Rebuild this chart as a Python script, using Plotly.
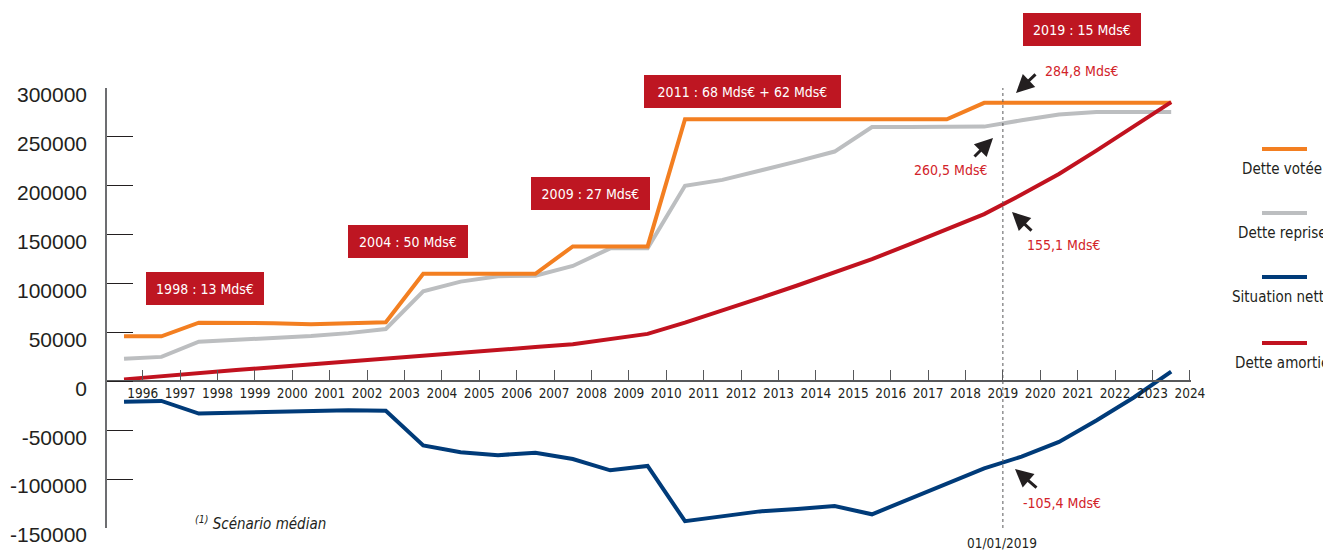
import plotly.graph_objects as go

# ---------------- data ----------------
annees = list(range(1995, 2024))  # points placed mid-year
dette_votee = [46000, 46000, 60000, 60000, 59500, 58500, 59500, 60500,
               110000, 110000, 110000, 110000, 138000, 138000, 138000,
               268000, 268000, 268000, 268000, 268000, 268000, 268000, 268000,
               284800, 284800, 284800, 284800, 284800, 284800]
dette_reprise = [23000, 25000, 40500, 42500, 44200, 46300, 49300, 53500,
                 92000, 102000, 107500, 108000, 118000, 136000, 136000,
                 200000, 206000, 215000, 225000, 235000, 260000, 260000, 260000,
                 260500, 267000, 273000, 275500, 275500, 275500]
situation_nette = [-21000, -20000, -33000, -32000, -30800, -30000, -29500, -30000,
                   -65500, -72500, -75500, -73000, -79500, -91000, -86500,
                   -143000, -137500, -133000, -130500, -127500, -136000, -120000, -105000,
                   -89000, -77000, -62000, -40000, -16500, 10000]
dette_amortie = [2000, 5500, 8500, 11500, 14500, 17500, 20500, 24000,
                 27000, 30000, 32500, 35000, 38000, 43000, 48500,
                 60000, 72000, 85000, 98000, 111000, 125000, 140000, 155000,
                 171000, 191000, 212000, 236000, 261000, 285500]

x_ticks = list(range(1996, 2025))
y_ticks = [-150000, -100000, -50000, 0, 50000, 100000, 150000, 200000, 250000, 300000]
y_ticktext = ["-150000", "-100000", "-50000", "0", "50000", "100000",
              "150000", "200000", "250000", "300000"]

series_names = ["Dette reprise", "Dette votée", "Situation nette", "Dette amortie"]
series_values = [dette_reprise, dette_votee, situation_nette, dette_amortie]
series_colors = ["#BCBEC0", "#F37F21", "#003B79", "#C1121F"]

etapes = ["1998 : 13 Mds€", "2004 : 50 Mds€", "2009 : 27 Mds€",
          "2011 : 68 Mds€ + 62 Mds€", "2019 : 15 Mds€"]
valeurs_2019 = ["284,8 Mds€", "260,5 Mds€", "155,1 Mds€", "-105,4 Mds€"]

# ---------------- layout geometry ----------------
OFF = 8  # default page body margin
W, H = 1331 - OFF, 552 - OFF
ML, MT = 107 - OFF, 88 - OFF
PLOT_R, PLOT_B = 1191 - OFF, 528 - OFF
MR, MB = W - PLOT_R, H - PLOT_B
XR = [1995.045, 2024.03]
YR = [-150000, 300000]
PW, PH = W - ML - MR, H - MT - MB

def px2paper(px):  # screenshot pixel -> paper
    return (px - OFF - ML) / PW

def py2paper(py):
    return (H - MB - (py - OFF)) / PH

NARROW = "DejaVu Sans Condensed, Liberation Sans Narrow, Roboto, sans-serif"
TXT = "#231F20"

fig = go.Figure()
xs = [a + 0.5 for a in annees]
for name, vals, col in zip(series_names, series_values, series_colors):
    fig.add_trace(go.Scatter(x=xs, y=vals, mode="lines", name=name,
                             line=dict(color=col, width=4), showlegend=False))

fig.update_layout(
    width=W, height=H, margin=dict(l=ML, r=MR, t=MT, b=MB, autoexpand=False),
    paper_bgcolor="white", plot_bgcolor="white",
    xaxis=dict(range=XR, tickvals=x_ticks, ticktext=[str(v) for v in x_ticks],
               anchor="free", position=(0 - YR[0]) / (YR[1] - YR[0]),
               showline=True, linecolor="#58595B", linewidth=1.5,
               ticks="inside", ticklen=11, tickcolor="#58595B", tickwidth=1,
               showgrid=False, zeroline=False, automargin=False,
               tickfont=dict(family=NARROW, size=13.5, color=TXT)),
    yaxis=dict(range=YR, tickvals=y_ticks, ticktext=y_ticktext,
               showline=True, linecolor="#6D6E71", linewidth=1.5,
               ticks="inside", ticklen=26, tickcolor=TXT, tickwidth=1,
               showgrid=False, zeroline=False, ticklabelstandoff=14,
               ticklabelshift=7, automargin=False,
               tickfont=dict(family="Liberation Sans, Arial, sans-serif", size=21, color=TXT)),
)

# dotted 01/01/2019 line
fig.add_shape(type="line", xref="x", yref="y", x0=2019, x1=2019, y0=YR[0], y1=YR[1],
              line=dict(color="#58595B", width=1, dash="dot"))

def note(px, py, text, **kw):
    fig.add_annotation(x=px2paper(px), y=py2paper(py), xref="paper", yref="paper",
                       xanchor=kw.pop("xanchor", "center"), yanchor="middle",
                       text=text, showarrow=False, **kw)

# red step boxes
box_centers = [(205, 288), (408, 241), (590, 193), (742, 92), (1082, 29)]
box_widths = [118, 120, 119, 197, 118]
for txt, (cx, cy), bw in zip(etapes, box_centers, box_widths):
    note(cx, cy, txt, bgcolor="#BE1622", width=bw, height=33,
         borderpad=0, borderwidth=0, align="center",
         font=dict(family=NARROW, size=14, color="white"))

# 2019 value labels
label_centers = [(1082, 71), (951, 170), (1064, 245), (1062, 503)]
for txt, (cx, cy) in zip(valeurs_2019, label_centers):
    note(cx, cy, txt, font=dict(family=NARROW, size=14, color="#D2232A"))

# arrows (head position, tail offset in px)
arrows = [((1016, 93), (21, -20)), ((993, 138), (-20, 20)),
          ((1012, 212), (21, 20)), ((1015, 469), (23, 20))]
for (hx, hy), (dx, dy) in arrows:
    fig.add_annotation(x=px2paper(hx), y=py2paper(hy), xref="paper", yref="paper", text="",
                       showarrow=True, arrowhead=2, arrowsize=1.2, arrowwidth=3,
                       arrowcolor=TXT, ax=dx, ay=dy, standoff=0)

note(1002, 543, "01/01/2019", borderpad=0, font=dict(family=NARROW, size=13.5, color=TXT))
note(193, 523, "<sup>(1)</sup> Scénario médian", xanchor="left",
     font=dict(family=NARROW, size=15, color=TXT, style="italic"))

# custom legend (line above label)
leg_line_y = [149, 213, 277, 343]
leg_text_y = [169, 233, 297, 363]
leg_names = ["Dette votée", "Dette reprise", "Situation nette", "Dette amortie"]
leg_cols = ["#F37F21", "#BCBEC0", "#003B79", "#C1121F"]
for nm, col, ly, ty in zip(leg_names, leg_cols, leg_line_y, leg_text_y):
    fig.add_shape(type="line", xref="paper", yref="paper",
                  x0=px2paper(1262), x1=px2paper(1307), y0=py2paper(ly), y1=py2paper(ly),
                  line=dict(color=col, width=4))
    note(1282, ty, nm, font=dict(family=NARROW, size=15, color=TXT))

fig.write_html("out.html")
